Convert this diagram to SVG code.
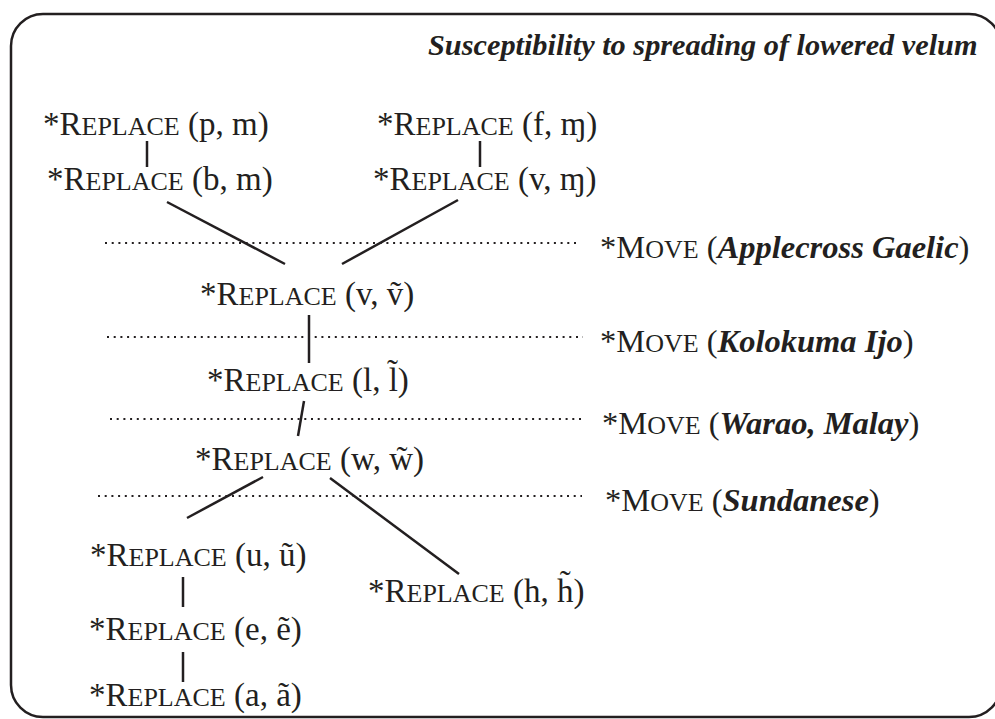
<svg xmlns="http://www.w3.org/2000/svg" width="995" height="719" viewBox="0 0 995 719">
<style>
.t{font-family:"Liberation Serif","Times New Roman",serif;font-size:33px;fill:#231f20}
.m{font-size:32.5px}
.sc{font-size:26px}
.bi{font-weight:bold;font-style:italic}
.ti{font-family:"Liberation Serif","Times New Roman",serif;font-size:30.3px;font-weight:bold;font-style:italic;fill:#231f20}
.ln{stroke:#231f20;stroke-width:2.5;fill:none}
.dot{stroke:#231f20;stroke-width:2;stroke-dasharray:2 4.7;fill:none}
</style>
<rect x="11" y="14" width="990" height="703" rx="32" ry="32" fill="none" stroke="#231f20" stroke-width="2.5"/>
<text class="ti" x="428" y="55">Susceptibility to spreading of lowered velum</text>
<g id="connectors">
<line class="ln" x1="147" y1="141" x2="147" y2="167"/>
<line class="ln" x1="480" y1="141" x2="480" y2="167"/>
<line class="ln" x1="167" y1="202" x2="285" y2="264"/>
<line class="ln" x1="458" y1="200" x2="342" y2="264"/>
<line class="ln" x1="309" y1="315" x2="309" y2="363"/>
<line class="ln" x1="304" y1="401" x2="298" y2="436"/>
<line class="ln" x1="263" y1="477" x2="187" y2="518"/>
<line class="ln" x1="330" y1="478" x2="459" y2="574"/>
<line class="ln" x1="183" y1="577" x2="183" y2="607"/>
<line class="ln" x1="183" y1="652" x2="183" y2="682"/>
</g>
<g id="dotted">
<line class="dot" x1="105" y1="243" x2="580" y2="243"/>
<line class="dot" x1="107" y1="337" x2="583" y2="337"/>
<line class="dot" x1="110" y1="419" x2="585" y2="419"/>
<line class="dot" x1="98" y1="496" x2="582" y2="496"/>
</g>
<g id="n-pm"><text class="t" x="43" y="135">*R<tspan class="sc">EPLACE</tspan> (p, m)</text></g>
<g id="n-bm"><text class="t" x="47" y="190">*R<tspan class="sc">EPLACE</tspan> (b, m)</text></g>
<g id="n-fm"><text class="t" x="377" y="135">*R<tspan class="sc">EPLACE</tspan> (f, ɱ)</text></g>
<g id="n-vm"><text class="t" x="373" y="190">*R<tspan class="sc">EPLACE</tspan> (v, ɱ)</text></g>
<g id="n-vv"><text class="t" x="200" y="305">*R<tspan class="sc">EPLACE</tspan> (v, ṽ)</text></g>
<g id="n-ll"><text class="t" x="207" y="391">*R<tspan class="sc">EPLACE</tspan> (l, l̃)</text></g>
<g id="n-ww"><text class="t" x="195" y="470">*R<tspan class="sc">EPLACE</tspan> (w, w̃)</text></g>
<g id="n-uu"><text class="t" x="90" y="566">*R<tspan class="sc">EPLACE</tspan> (u, ũ)</text></g>
<g id="n-hh"><text class="t" x="368" y="602">*R<tspan class="sc">EPLACE</tspan> (h, h̃)</text></g>
<g id="n-ee"><text class="t" x="89" y="640">*R<tspan class="sc">EPLACE</tspan> (e, ẽ)</text></g>
<g id="n-aa"><text class="t" x="89" y="706">*R<tspan class="sc">EPLACE</tspan> (a, ã)</text></g>
<g id="m-applecross"><text class="t m" x="600" y="258">*M<tspan class="sc">OVE</tspan> (<tspan class="bi">Applecross Gaelic</tspan>)</text></g>
<g id="m-kolokuma"><text class="t m" x="600" y="352">*M<tspan class="sc">OVE</tspan> (<tspan class="bi">Kolokuma Ijo</tspan>)</text></g>
<g id="m-warao"><text class="t m" x="602" y="434">*M<tspan class="sc">OVE</tspan> (<tspan class="bi">Warao, Malay</tspan>)</text></g>
<g id="m-sundanese"><text class="t m" x="605" y="511">*M<tspan class="sc">OVE</tspan> (<tspan class="bi">Sundanese</tspan>)</text></g>
</svg>
